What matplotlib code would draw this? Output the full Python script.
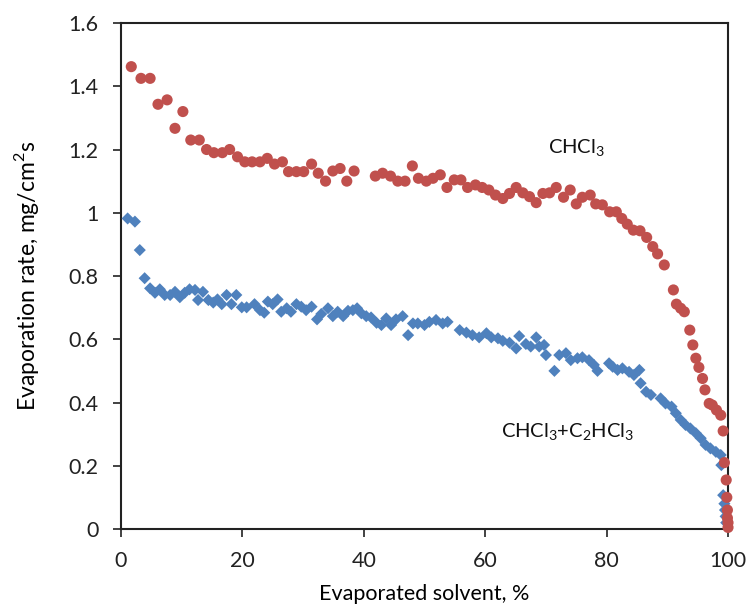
import matplotlib
matplotlib.use("Agg")
import matplotlib.pyplot as plt

plt.rcParams['font.family'] = ['Lato', 'DejaVu Sans']
plt.rcParams['mathtext.fontset'] = 'custom'
plt.rcParams['mathtext.rm'] = 'Lato'

# CHCl3 series (red circles)
chcl3_x = [1.7, 3.3, 4.8, 6.1, 7.6, 8.9, 10.2, 11.5, 12.9, 14.1, 15.3, 16.7, 17.9, 19.2,
           20.4, 21.6, 22.9, 24.1, 25.3, 26.6, 27.6, 28.9, 30.1, 31.4, 32.5, 33.7, 34.9,
           36.1, 37.2, 38.4, 41.9, 43.1, 44.4, 45.6, 46.8, 48.0, 49.0, 50.3, 51.4, 52.6,
           53.7, 54.9, 56.0, 57.1, 58.4, 59.5, 60.6, 61.7, 62.9, 64.0, 65.1, 66.2, 67.3,
           68.4, 69.5, 70.6, 71.7, 72.9, 74.0, 75.0, 76.0, 77.3, 78.2, 79.3, 80.5, 81.6,
           82.5, 83.4, 84.4, 85.5, 86.6, 87.6, 88.4, 89.5, 91.0, 91.5, 92.2, 92.8, 93.7,
           94.2, 94.7, 95.2, 95.8, 96.2, 96.9, 97.4, 98.1, 98.8, 99.2, 99.4, 99.7, 99.8,
           99.9, 99.9, 100.0, 100.0]
chcl3_y = [1.462, 1.425, 1.425, 1.343, 1.357, 1.267, 1.32, 1.23, 1.23, 1.20, 1.19, 1.19, 1.20, 1.177,
           1.161, 1.161, 1.161, 1.172, 1.154, 1.161, 1.13, 1.13, 1.13, 1.154, 1.125, 1.10, 1.132,
           1.14, 1.10, 1.132, 1.116, 1.125, 1.116, 1.10, 1.10, 1.148, 1.109, 1.10, 1.109, 1.12,
           1.08, 1.104, 1.104, 1.08, 1.088, 1.08, 1.072, 1.056, 1.045, 1.061, 1.08, 1.063, 1.051,
           1.032, 1.061, 1.063, 1.08, 1.049, 1.072, 1.028, 1.049, 1.056, 1.028, 1.025, 1.003, 1.003,
           0.982, 0.964, 0.945, 0.943, 0.922, 0.893, 0.87, 0.835, 0.756, 0.711, 0.698, 0.687, 0.629,
           0.582, 0.54, 0.511, 0.476, 0.44, 0.397, 0.392, 0.376, 0.36, 0.31, 0.21, 0.155, 0.10,
           0.06, 0.035, 0.02, 0.005]

# CHCl3 + C2HCl3 series (blue diamonds)
mix_x = [1.1, 2.3, 3.1, 3.9, 4.8, 5.6, 6.4, 7.2, 8.1, 8.9, 9.7, 10.5, 11.3, 12.2, 12.7, 13.5,
         14.4, 15.2, 15.9, 16.6, 17.4, 18.2, 19.0, 19.9, 20.7, 22.0, 22.9, 23.6, 24.2, 25.0,
         25.8, 26.4, 27.3, 28.0, 28.9, 29.7, 30.5, 31.4, 32.3, 33.0, 34.1, 34.9, 35.7, 36.6,
         37.4, 38.2, 38.9, 39.6, 40.4, 41.2, 42.1, 42.9, 43.7, 44.5, 45.3, 46.4, 47.3, 48.1,
         48.9, 50.0, 50.8, 51.9, 53.0, 53.8, 55.8, 56.9, 57.9, 59.0, 60.2, 61.0, 62.1, 62.9,
         64.0, 65.1, 65.6, 66.7, 67.5, 68.4, 68.9, 69.7, 70.0, 71.4, 72.2, 73.3, 74.1, 75.2,
         76.0, 77.1, 77.9, 78.5, 80.4, 81.0, 81.8, 82.6, 83.7, 84.5, 85.4, 85.6, 86.5, 87.3,
         88.9, 89.7, 90.7, 91.4, 92.2, 93.0, 93.8, 94.7, 95.5, 96.3, 97.1, 98.0, 98.8, 98.9,
         99.2, 99.4, 99.5, 99.6, 99.7]
mix_y = [0.982, 0.972, 0.882, 0.793, 0.761, 0.747, 0.758, 0.74, 0.74, 0.75, 0.733, 0.747, 0.758, 0.756, 0.724, 0.75,
         0.724, 0.716, 0.726, 0.711, 0.74, 0.711, 0.74, 0.701, 0.701, 0.711, 0.692, 0.684, 0.719, 0.711,
         0.726, 0.687, 0.698, 0.687, 0.711, 0.703, 0.692, 0.703, 0.663, 0.68, 0.698, 0.673, 0.687, 0.673,
         0.69, 0.692, 0.698, 0.682, 0.673, 0.669, 0.652, 0.645, 0.666, 0.645, 0.663, 0.673, 0.613, 0.65,
         0.65, 0.645, 0.655, 0.661, 0.65, 0.655, 0.629, 0.621, 0.613, 0.606, 0.619, 0.606, 0.603, 0.595,
         0.589, 0.571, 0.61, 0.585, 0.577, 0.606, 0.577, 0.582, 0.55, 0.50, 0.55, 0.556, 0.534, 0.54,
         0.543, 0.534, 0.519, 0.50, 0.524, 0.513, 0.503, 0.508, 0.497, 0.487, 0.503, 0.461, 0.434, 0.424,
         0.413, 0.397, 0.387, 0.366, 0.345, 0.329, 0.318, 0.303, 0.287, 0.266, 0.255, 0.244, 0.234, 0.202,
         0.107, 0.08, 0.06, 0.04, 0.02]

x_ticks = [0, 20, 40, 60, 80, 100]
y_ticks = [0, 0.2, 0.4, 0.6, 0.8, 1.0, 1.2, 1.4, 1.6]
y_tick_labels = ['0', '0.2', '0.4', '0.6', '0.8', '1', '1.2', '1.4', '1.6']

red = '#C0504D'
blue = '#4F81BD'

fig = plt.figure(figsize=(7.49, 6.12), dpi=100)
ax = fig.add_axes([0.1615, 0.1356, 0.8105, 0.8268])

ax.scatter(mix_x, mix_y, marker='D', s=38, color=blue, edgecolors='none', zorder=3, clip_on=False)
ax.scatter(chcl3_x, chcl3_y, marker='o', s=64, color=red, edgecolors='none', zorder=4, clip_on=False)

ax.set_xlim(0, 100)
ax.set_ylim(0, 1.6)
ax.set_xticks(x_ticks)
ax.set_yticks(y_ticks)
ax.set_yticklabels(y_tick_labels)
ax.tick_params(direction='out', length=6, width=1.2, labelsize=15.5, colors='#222222')
ax.tick_params(axis='y', pad=10)
ax.tick_params(axis='x', pad=10)
for sp in ax.spines.values():
    sp.set_linewidth(1.5)
    sp.set_color('#222222')

ax.text(75, 1.205, 'CHCl$_3$', fontsize=14.5, ha='center', va='center', color='#111111')
ax.text(73.5, 0.307, 'CHCl$_3$+C$_2$HCl$_3$', fontsize=14.5, ha='center', va='center', color='#111111')

ax.set_xlabel('Evaporated solvent, %', fontsize=15.5, labelpad=9)
ax.set_ylabel('Evaporation rate, mg/cm$^2$s', fontsize=16.5, labelpad=20)

fig.savefig('out.png', dpi=100)
